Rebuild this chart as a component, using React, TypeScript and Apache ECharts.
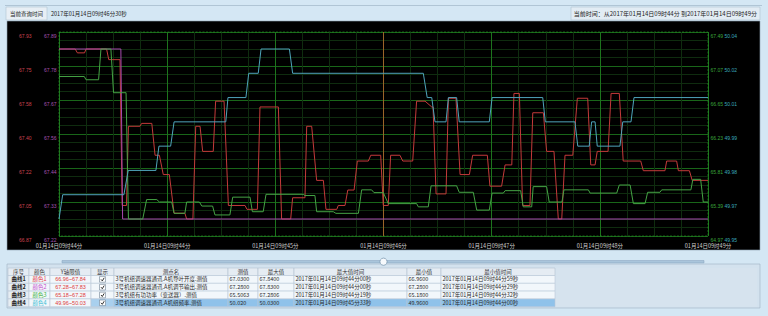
import React, { useEffect, useRef } from 'react';
import * as echarts from 'echarts';

const W = 768;
const H = 316;
const CJK = '"Noto Sans CJK SC", "Noto Sans", sans-serif';
const NUM = '"Liberation Sans", "DejaVu Sans", sans-serif';

// ---------- data ----------
const queryTimeText = '2017年01月14日09时46分30秒';
const rangeText = '当前时间：从2017年01月14日09时44分 到2017年01月14日09时49分';
const queryT = 150; // seconds after 09:44:00

const xTickLabels = [
  '01月14日09时44分', '01月14日09时44分', '01月14日09时45分', '01月14日09时46分',
  '01月14日09时47分', '01月14日09时48分', '01月14日09时49分',
];

// axis extents (min, max) and tick labels bottom -> top
const redExtent = [66.872, 67.928];
const purpleExtent = [67.225, 67.885];
const greenExtent = [64.97, 67.49];
const cyanExtent = [49.953, 50.037];
const redTicks = ['66.87', '67.05', '67.22', '67.40', '67.58', '67.75', '67.93'];
const purpleTicks = ['67.22', '67.33', '67.44', '67.56', '67.67', '67.78', '67.89'];
const greenTicks = ['64.97', '65.39', '65.81', '66.23', '66.65', '67.07', '67.49'];
const cyanTicks = ['49.95', '49.97', '49.98', '49.99', '50.01', '50.02', '50.04'];

const redLine = [
  [0, 67.84], [7.5, 67.84], [8.5, 67.82], [11.8, 67.82], [12.5, 67.84], [22.0, 67.84], [23.0, 67.785],
  [28.2, 67.785], [29.2, 67.03], [31.2, 67.03], [32.1, 67.44], [37.4, 67.44], [38.2, 67.455], [42.9, 67.455],
  [44.4, 67.29], [46.4, 67.29], [48.2, 67.19], [51.0, 67.19], [53.2, 66.99], [58.2, 66.99], [59.0, 66.96],
  [61.9, 66.96], [63.2, 67.44], [65.2, 67.44], [66.4, 67.31], [71.3, 67.31], [72.4, 67.57], [76.3, 67.57],
  [78.3, 67.03], [86.0, 67.03], [86.9, 67.01], [91.7, 67.01], [92.9, 67.54], [101.4, 67.54], [102.9, 66.96],
  [107.1, 66.96], [108.0, 67.07], [113.7, 67.07], [114.5, 67.44], [116.8, 67.44], [119.1, 67.16], [122.2, 67.16],
  [123.4, 67.01], [128.4, 67.01], [129.1, 67.03], [132.2, 67.03], [133.5, 67.11], [136.4, 67.11], [137.9, 67.26],
  [143.0, 67.26], [144.1, 67.29], [148.7, 67.29], [149.9, 67.03], [152.2, 67.03], [153.3, 67.29], [157.6, 67.29],
  [158.9, 67.26], [163.5, 67.26], [165.3, 67.57], [169.2, 67.57], [172.3, 67.54], [172.9, 67.54], [174.3, 67.09],
  [178.9, 67.09], [180.0, 67.585], [183.5, 67.585], [185.4, 67.19], [189.7, 67.19], [191.2, 67.29], [198.0, 67.29],
  [199.2, 67.13], [204.6, 67.13], [206.2, 67.24], [209.3, 67.24], [210.3, 67.61], [212.8, 67.61], [214.3, 67.03],
  [217.7, 67.03], [219.0, 67.51], [223.9, 67.51], [225.4, 67.31], [228.8, 67.31], [230.8, 66.96], [232.4, 66.96],
  [233.9, 67.29], [237.5, 67.29], [239.6, 67.585], [244.4, 67.585], [245.8, 67.24], [247.8, 67.24], [248.8, 67.31],
  [253.8, 67.31], [255.2, 67.61], [259.0, 67.61], [260.8, 67.26], [268.9, 67.26], [270.1, 67.21], [280.1, 67.21],
  [280.9, 67.26], [285.5, 67.26], [286.3, 67.21], [291.4, 67.21], [292.7, 67.16], [300, 67.16],
];

const purpleLine = [[0, 67.83], [28.6, 67.83], [29.4, 67.28], [300, 67.28]];

const greenLine = [
  [0, 66.94], [11.7, 66.94], [12.5, 66.9], [18.3, 66.9], [19.4, 67.28], [24.0, 67.28], [25.2, 66.74],
  [31.0, 66.74], [32.1, 65.18], [38.7, 65.18], [40.5, 65.42], [45.2, 65.42], [46.4, 65.39], [52.1, 65.39],
  [53.2, 65.25], [58.2, 65.25], [59.0, 65.39], [64.9, 65.39], [66.0, 65.34], [71.0, 65.34], [72.1, 65.23],
  [79.0, 65.23], [80.3, 65.45], [88.3, 65.45], [89.4, 65.27], [94.4, 65.27], [95.7, 65.485], [112.9, 65.485],
  [113.7, 65.47], [118.3, 65.47], [119.1, 65.27], [126.8, 65.27], [128.0, 65.25], [138.4, 65.25], [139.9, 65.54],
  [144.5, 65.54], [145.6, 65.506], [149.9, 65.506], [152.2, 65.37], [165.3, 65.37], [166.1, 65.33], [170.7, 65.33],
  [172.0, 65.59], [183.8, 65.59], [185.0, 65.51], [191.5, 65.51], [193.1, 65.29], [198.9, 65.29], [200.2, 65.5],
  [205.4, 65.5], [206.2, 65.53], [213.4, 65.53], [214.6, 65.33], [218.5, 65.33], [219.2, 65.58], [225.4, 65.58],
  [226.6, 65.39], [232.5, 65.39], [233.4, 65.54], [244.7, 65.54], [245.5, 65.5], [257.8, 65.5], [259.0, 65.6],
  [264.0, 65.6], [265.5, 65.37], [270.9, 65.37], [272.1, 65.51], [277.8, 65.51], [278.6, 65.54], [292.1, 65.54],
  [293.0, 65.67], [296.6, 65.67], [297.8, 65.39], [300, 65.39],
];

const cyanLine = [
  [0, 49.96], [1.7, 49.97], [30.0, 49.97], [32.0, 49.98], [44.8, 49.98], [46.2, 49.99], [51.6, 49.99],
  [53.2, 50.0], [77.1, 50.0], [78.1, 50.01], [86.4, 50.01], [87.7, 50.02], [92.1, 50.02], [93.4, 50.03],
  [106.5, 50.03], [108.0, 50.02], [168.4, 50.02], [170.2, 50.01], [172.3, 50.01], [173.8, 50.0], [178.9, 50.0],
  [180.0, 50.01], [183.8, 50.01], [185.0, 50.0], [198.9, 50.0], [200.2, 50.01], [223.6, 50.01], [224.8, 50.0],
  [238.5, 50.0], [239.8, 49.99], [245.1, 49.99], [246.2, 50.0], [247.8, 50.0], [248.8, 49.99], [259.3, 49.99],
  [260.6, 50.0], [264.4, 50.0], [265.8, 50.01], [300, 50.01],
];

// table
const headers = ['序号', '颜色', 'Y轴限值', '显示', '测点名', '测值', '最大值', '最大值时间', '最小值', '最小值时间'];
const rowIds = ['曲线1', '曲线2', '曲线3', '曲线4'];
const colorNames = ['颜色1', '颜色2', '颜色3', '颜色4'];
const yRanges = ['66.96~67.84', '67.28~67.83', '65.18~67.28', '49.96~50.03'];
const pointNames = [
  '3号机组调速器通讯.A机导叶开度.测值',
  '3号机组调速器通讯.A机调节输出.测值',
  '3号机组有功功率（变送器）.测值',
  '3号机组调速器通讯.A机组频率.测值',
];
const currentValues = ['67.0300', '67.2800', '65.5063', '50.020'];
const maxValues = ['67.8400', '67.8300', '67.2806', '50.0300'];
const maxTimes = ['2017年01月14日09时44分00秒', '2017年01月14日09时44分00秒', '2017年01月14日09时44分19秒', '2017年01月14日09时45分33秒'];
const minValues = ['66.9600', '67.2800', '65.1800', '49.9600'];
const minTimes = ['2017年01月14日09时44分59秒', '2017年01月14日09时44分29秒', '2017年01月14日09时44分32秒', '2017年01月14日09时44分00秒'];

// ---------- styles / layout ----------
const seriesColors = ['#c43a3a', '#a64aae', '#45a345', '#4ea4ba'];
const legendTextColors = ['#e2343c', '#c64ccc', '#35b035', '#34bcd2'];
const G = { left: 59, top: 32, right: 708, bottom: 236 };
const colX = [8, 29, 50, 91, 114, 228, 258, 294, 407, 441, 555];
const headTop = 268;
const headH = 7.5;
const rowH = 7.8;

function yAxisCfg(ext: number[], labels: string[], color: string, position: string, offset: number, grid: boolean) {
  const [min, max] = ext;
  const interval = (max - min) / (labels.length - 1);
  return {
    type: 'value', min, max, interval, position, offset,
    axisLine: { show: false }, axisTick: { show: false },
    axisLabel: {
      color, fontSize: 5, lineHeight: 5, fontFamily: NUM, margin: 2.5, verticalAlign: 'top', padding: [1.5, 0, 0, 0],
      formatter: (v: number) => labels[Math.round((v - min) / interval)] ?? '',
    },
    splitLine: { show: grid, lineStyle: { color: '#196619', width: 1 } },
    minorTick: { show: false, splitNumber: 4 },
    minorSplitLine: { show: grid, lineStyle: { color: '#0f2c0f', width: 1 } },
  };
}

function txt(text: string, x: number, y: number, opts: any = {}) {
  return {
    type: 'text', z: 20,
    style: {
      text, x, y, fill: opts.fill ?? '#222', fontSize: opts.fontSize ?? 5.5,
      fontFamily: opts.fontFamily ?? CJK, fontWeight: opts.fontWeight ?? 'normal',
      textAlign: opts.align ?? 'left', textVerticalAlign: 'middle',
    },
  };
}

function rect(x: number, y: number, w: number, h: number, fill: string, stroke?: string, z = 10, extra: any = {}) {
  return {
    type: 'rect', z, shape: { x, y, width: w, height: h },
    style: { fill, stroke: stroke ?? 'none', lineWidth: 0.6, ...(extra.lineDash ? { lineDash: extra.lineDash } : {}) },
  };
}

function buildGraphics() {
  const g: any[] = [];
  // top bar
  g.push({ type: 'line', z: 10, shape: { x1: 5, y1: 5.5, x2: 762, y2: 5.5 }, style: { stroke: '#a7bccd', lineWidth: 0.8 } });
  g.push(rect(6, 7, 41, 13, '#e8eff5', '#b0c2d1'));
  g.push(txt('当前查询时间', 26.5, 13.5, { align: 'center' }));
  g.push(txt(queryTimeText, 51, 13.5));
  g.push(rect(571, 7, 189, 13, '#e2ecf4', '#b0c2d1'));
  g.push(txt(rangeText, 757, 13.5, { align: 'right', fontSize: 6 }));
  // chart black panel
  g.push({ ...rect(7, 21, 753, 229, '#000000', '#8da2b4'), z: -20 });
  // plot border dashed
  g.push({ ...rect(G.left, G.top, G.right - G.left, G.bottom - G.top, 'none', '#2a9a2a', 5, { lineDash: [2, 1.5] }), z: 1 });
  // slider
  g.push(rect(62, 260.5, 642, 2.4, '#a9c5db', '#8eaac2', 10));
  g.push({ type: 'circle', z: 12, shape: { cx: 383.5, cy: 261.7, r: 3.6 }, style: { fill: '#f6f9fc', stroke: '#7e9bb3', lineWidth: 0.8 } });
  // table panel
  g.push(rect(7, 264, 753, 44, '#d3e2ee', '#9fb3c5', 8));
  g.push(rect(colX[10], headTop, 757 - colX[10], 38.7, '#d6e3ee', 'none', 9));
  // header
  for (let c = 0; c < 10; c++) {
    const x0 = colX[c], x1 = colX[c + 1];
    g.push(rect(x0, headTop, x1 - x0, headH, '#e5ecf3', '#b3c3d2'));
    g.push(txt(headers[c], (x0 + x1) / 2, headTop + headH / 2, { align: 'center', fill: '#333' }));
  }
  for (let r = 0; r < 4; r++) {
    const y0 = headTop + headH + r * rowH;
    const cy = y0 + rowH / 2;
    const sel = r === 3;
    const cells = [rowIds[r], colorNames[r], yRanges[r], '', pointNames[r], currentValues[r], maxValues[r], maxTimes[r], minValues[r], minTimes[r]];
    for (let c = 0; c < 10; c++) {
      const x0 = colX[c], x1 = colX[c + 1];
      let fill = '#f2f7fb';
      if (c === 0) fill = '#e6edf3';
      if (sel && c === 3) fill = '#a9d0ee';
      if (sel && c >= 4) fill = '#8fc2ea';
      g.push(rect(x0, y0, x1 - x0, rowH, fill, '#b8c8d6'));
      if (c === 3) {
        g.push(rect(x0 + 8.5, cy - 2.8, 6, 5.6, '#ffffff', '#6f8293', 15));
        g.push({ type: 'polyline', z: 16, shape: { points: [[x0 + 10, cy], [x0 + 11.3, cy + 1.5], [x0 + 13.2, cy - 1.6]] }, style: { stroke: '#1a1a1a', lineWidth: 0.9, fill: 'none' } });
        continue;
      }
      if (c === 0) g.push(txt(cells[c], (x0 + x1) / 2, cy, { align: 'center', fontWeight: 'bold', fill: '#222' }));
      else if (c === 1) g.push(txt(cells[c], (x0 + x1) / 2, cy, { align: 'center', fill: legendTextColors[r] }));
      else if (c === 2) g.push(txt(cells[c], (x0 + x1) / 2, cy, { align: 'center', fill: '#e0403c', fontFamily: NUM }));
      else g.push(txt(cells[c], x0 + 1.5, cy, { fill: '#2a2a2a' }));
    }
  }
  return g;
}

function lineSeries(name: string, data: number[][], yIdx: number, color: string, z = 3) {
  return {
    name, type: 'line', data, yAxisIndex: yIdx, showSymbol: false, symbol: 'none',
    lineStyle: { color, width: 1 }, itemStyle: { color }, z, silent: true,
  };
}

export default function App() {
  const ref = useRef<HTMLDivElement>(null);
  useEffect(() => {
    const chart = echarts.init(ref.current!, null, { renderer: 'svg', width: W, height: H });
    const option: any = {
      animation: false,
      backgroundColor: '#d4e7f4',
      grid: { left: G.left, top: G.top, width: G.right - G.left, height: G.bottom - G.top, containLabel: false },
      xAxis: {
        type: 'value', min: 0, max: 300, interval: 50,
        axisLine: { show: false }, axisTick: { show: false },
        axisLabel: {
          color: '#cfcfcf', fontSize: 5.5, lineHeight: 5.5, fontFamily: CJK, margin: 7.5,
          formatter: (v: number) => xTickLabels[Math.round(v / 50)] ?? '',
        },
        splitLine: { show: true, lineStyle: { color: '#1d741d', width: 1, type: 'solid' } },
        minorTick: { show: false, splitNumber: 4 },
        minorSplitLine: { show: true, lineStyle: { color: '#0f2c0f', width: 1 } },
      },
      yAxis: [
        yAxisCfg(redExtent, redTicks, '#cc4450', 'left', 25, false),
        yAxisCfg(purpleExtent, purpleTicks, '#a652b2', 'left', 0, true),
        yAxisCfg(greenExtent, greenTicks, '#3aa53a', 'right', 0, false),
        yAxisCfg(cyanExtent, cyanTicks, '#3aa9bb', 'right', 14, false),
      ],
      graphic: buildGraphics(),
      series: [
        lineSeries('查询时刻', [[queryT, redExtent[0]], [queryT, redExtent[1]]], 0, '#9a6428', 2),
        lineSeries('导叶开度', redLine, 0, seriesColors[0]),
        lineSeries('调节输出', purpleLine, 1, seriesColors[1]),
        lineSeries('有功功率', greenLine, 2, seriesColors[2]),
        lineSeries('频率', cyanLine, 3, seriesColors[3]),
      ],
    };
    chart.setOption(option);
    return () => chart.dispose();
  }, []);
  return <div ref={ref} style={{ position: 'absolute', left: 0, top: 0, width: W, height: H }} />;
}
